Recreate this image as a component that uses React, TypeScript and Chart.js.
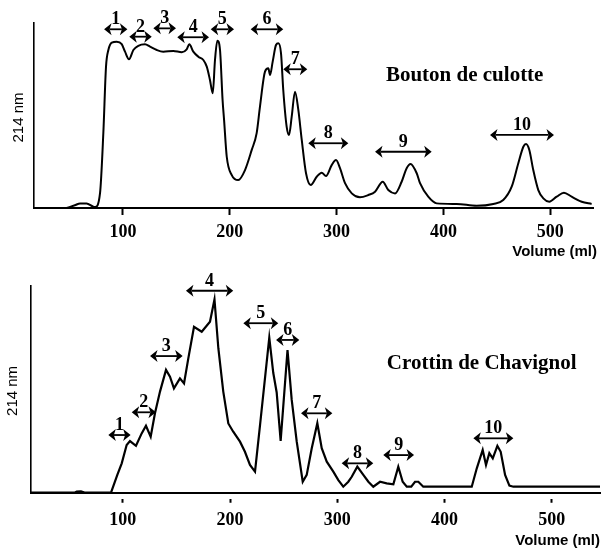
import React, { useEffect, useRef } from "react";
import { Chart, registerables } from "chart.js";

Chart.register(...registerables);

// ---------- Data: "Bouton de culotte" ----------
const boutonVolume = [
  47.4, 55, 60, 66, 72, 74, 78.6, 81.7, 84.2, 86.4, 89.6, 94.2, 98.9, 102.0, 105.7, 109.8, 114.4, 120.7,
  125.4, 131.7, 137.8, 147.2, 155.1, 159.7, 162.2, 165.9, 170.6, 175.3, 178.5, 181.5, 184.1, 186.2,
  188.4, 190.9, 193.3, 194.7, 197.2, 201.9, 208.0, 214.3, 220.6, 225.2, 228.3, 233.0, 236.1, 237.7,
  240.2, 243.3, 245.5, 248.0, 250.1, 253.3, 255.5, 258.0, 261.1, 264.2, 267.4, 271.4, 275.8, 281.4,
  286.1, 290.1, 295.4, 299.5, 303.2, 307.9, 314.2, 321.9, 329.7, 336.0, 343.2, 348.4, 354.7, 360.9,
  365.6, 369.2, 375.0, 378.1, 385.8, 393.7, 412.4, 431.1, 446.7, 456.0, 463.9, 470.1, 474.8, 477.3,
  480.4, 484.1, 488.8, 493.5, 499.1, 506.0, 512.8, 520.0, 529.4, 538.7,
];
const boutonAbsorbance = [
  0, 1.5, 2.5, 2.5, 0.8, 0.5, 8, 40.5, 76.4, 85.4, 89.4, 89.9, 88.6, 84.5, 80.4, 85.4, 87.7, 88.5,
  87.2, 85.4, 84.5, 84.9, 84.2, 85.8, 88.5, 84.5, 81.8, 80, 76.4, 69.2, 62, 80,
  90.4, 85.4, 58.4, 47.6, 27.7, 17.8, 15.1, 20.5, 31.4, 40.5, 54.8, 73.7, 75.5, 71.9,
  79.1, 88.1, 89.0, 83.6, 63.8, 43.9, 39.5, 49.4, 62.9, 53.0, 36.8, 18.8, 12.4, 16.9,
  19.1, 17.3, 23.2, 25.9, 21.5, 13.4, 7.9, 5.8, 7.0, 8.8, 14.2, 9.7, 7.9, 14.2,
  21.5, 23.8, 18.8, 13.4, 6.1, 2.5, 2.2, 1.2, 2.2, 4.3, 11.5, 24.2, 33.1, 34.6,
  31.4, 20.5, 9.7, 5.2, 3.4, 6.1, 8.3, 6.1, 3.4, 2.2,
];
const boutonPeakStart = [82.4, 106.0, 128.5, 150.9, 182.2, 219.6, 250.1, 273.5, 336.0, 443.6];
const boutonPeakEnd = [104.2, 127.0, 149.7, 180.6, 204.0, 250.1, 272.6, 311.0, 389.0, 503.5];
const boutonPeakLevel = [96.6, 92.6, 97.1, 92.3, 96.6, 96.6, 75.0, 35.0, 30.4, 39.5];

// ---------- Data: "Crottin de Chavignol" ----------
const crottinVolume = [
  14.4, 55, 57, 61, 65, 89.0, 94.9, 99.0, 103.6, 106.7, 112.3, 117.6, 121.6, 126.0, 130.0, 134.7,
  140.3, 144.0, 147.7, 153.3, 157.1, 161.1, 166.4, 173.6, 181.3, 185.5, 189.1, 193.7, 198.4, 203.0,
  209.3, 213.9, 218.6, 223.3, 228.0, 236.6, 240.3, 243.5, 247.2, 253.6, 257.5, 262.2, 267.8, 271.5,
  276.2, 281.4, 285.5, 290.2, 296.3, 301.0, 305.6, 310.3, 313.5, 318.7, 324.3, 329.0, 333.6, 339.9,
  346.1, 352.3, 356.9, 361.0, 364.8, 369.0, 372.5, 375.6, 380.2, 425.4, 430.1, 435.6, 438.7, 441.8,
  445.0, 449.3, 452.4, 456.5, 460.5, 464.2, 545,
];
const crottinAbsorbance = [
  0, 0, 0.5, 0.7, 0, 0, 8.6, 14.2, 23.1, 25.0, 22.7, 28.7, 32.4, 27.1, 38.4, 48.9,
  59.4, 56.1, 50.5, 55.3, 52.9, 65.0, 80.3, 77.9, 82.7, 93.5, 69.9, 48.9, 33.5, 29.5,
  24.7, 19.8, 13.4, 10.2, 32.8, 75.0, 58, 48.5, 25.0, 69.0, 45, 24.7, 5.3, 8.6,
  21.5, 33.6, 21.5, 15.0, 10.2, 6.1, 2.9, 5.3, 7.7, 12.6, 8.6, 5.3, 2.9, 5.3,
  4.5, 4.1, 12.6, 5.3, 2.9, 2.9, 5.3, 5.3, 2.9, 2.9, 11.8, 20.7, 13.4, 19.1,
  16.6, 22.7, 19.8, 8.6, 3.4, 2.9, 2.9,
];
const crottinPeakStart = [86.5, 108.3, 125.4, 158.9, 212.4, 242.9, 266.2, 304.1, 342.9, 426.9];
const crottinPeakEnd = [107.3, 130.9, 155.8, 203.0, 245.0, 264.6, 295.4, 333.6, 371.6, 464.2];
const crottinPeakLevel = [27.9, 38.9, 66.1, 97.7, 82.0, 73.9, 38.4, 14.2, 18.2, 26.3];

const peakNumbers = ["1", "2", "3", "4", "5", "6", "7", "8", "9", "10"];
const xTickValues = [100, 200, 300, 400, 500];
const yAxisLabel = "214 nm";
const xAxisLabel = "Volume (ml)";

type PanelCfg = {
  top: number;
  height: number;
  title: string;
  titleAt: [number, number];
  volume: number[];
  absorbance: number[];
  peakStart: number[];
  peakEnd: number[];
  peakLevel: number[];
  xMin: number;
  xMax: number;
  padding: { left: number; right: number; top: number; bottom: number };
  xAxisHeight: number;
  smooth: boolean;
  lineWidth: number;
  tickLength: number;
  tickDash: number[];
  yLabelDx: number;
  yLabelDy: number;
  xLabelDx: number;
  xLabelDy: number;
};

const panels: PanelCfg[] = [
  {
    top: 0,
    height: 265,
    title: "Bouton de culotte",
    titleAt: [419.9, 68.6],
    volume: boutonVolume,
    absorbance: boutonAbsorbance,
    peakStart: boutonPeakStart,
    peakEnd: boutonPeakEnd,
    peakLevel: boutonPeakLevel,
    xMin: 16.8,
    xMax: 540,
    padding: { left: 34, right: 8, top: 23, bottom: 0 },
    xAxisHeight: 57,
    smooth: true,
    lineWidth: 2,
    tickLength: 7,
    tickDash: [],
    yLabelDx: -15,
    yLabelDy: 2,
    xLabelDx: 4,
    xLabelDy: 47.5,
  },
  {
    top: 265,
    height: 288,
    title: "Crottin de Chavignol",
    titleAt: [434.7, 59.8],
    volume: crottinVolume,
    absorbance: crottinAbsorbance,
    peakStart: crottinPeakStart,
    peakEnd: crottinPeakEnd,
    peakLevel: crottinPeakLevel,
    xMin: 14.4,
    xMax: 545,
    padding: { left: 31, right: 1, top: 21, bottom: 0 },
    xAxisHeight: 60.3,
    smooth: false,
    lineWidth: 2.2,
    tickLength: 10,
    tickDash: [0, 5, 5, 0],
    yLabelDx: -17.7,
    yLabelDy: 1.6,
    xLabelDx: 0,
    xLabelDy: 52,
  },
];

function makeDecor(cfg: PanelCfg) {
  return {
    id: "decor",
    afterDraw(chart: any) {
      const { ctx, chartArea, scales } = chart;
      const xs = scales.x;
      const ys = scales.y;
      ctx.save();
      ctx.fillStyle = "#000";
      ctx.strokeStyle = "#000";

      // peak fraction arrows
      peakNumbers.forEach((lab, i) => {
        const x1 = xs.getPixelForValue(cfg.peakStart[i]);
        const x2 = xs.getPixelForValue(cfg.peakEnd[i]);
        const y = ys.getPixelForValue(cfg.peakLevel[i]);
        const hl = 7.5;
        const hw = 6;
        ctx.lineWidth = 1.8;
        ctx.beginPath();
        ctx.moveTo(x1 + hl - 2, y);
        ctx.lineTo(x2 - hl + 2, y);
        ctx.stroke();
        ctx.beginPath();
        ctx.moveTo(x1, y);
        ctx.lineTo(x1 + hl, y - hw);
        ctx.lineTo(x1 + hl - 2, y);
        ctx.lineTo(x1 + hl, y + hw);
        ctx.closePath();
        ctx.fill();
        ctx.beginPath();
        ctx.moveTo(x2, y);
        ctx.lineTo(x2 - hl, y - hw);
        ctx.lineTo(x2 - hl + 2, y);
        ctx.lineTo(x2 - hl, y + hw);
        ctx.closePath();
        ctx.fill();
        ctx.font = "bold 18px 'Liberation Serif', serif";
        ctx.textAlign = "center";
        ctx.textBaseline = "alphabetic";
        ctx.fillText(lab, (x1 + x2) / 2, y - 5);
      });

      // sample title
      ctx.font = "bold 21px 'Liberation Serif', serif";
      ctx.textAlign = "center";
      ctx.textBaseline = "alphabetic";
      ctx.fillText(cfg.title, xs.getPixelForValue(cfg.titleAt[0]), ys.getPixelForValue(cfg.titleAt[1]));

      // y axis label
      ctx.save();
      ctx.translate(chartArea.left + cfg.yLabelDx, (chartArea.top + chartArea.bottom) / 2 + cfg.yLabelDy);
      ctx.rotate(-Math.PI / 2);
      ctx.font = "15px 'Liberation Sans', Arial, sans-serif";
      ctx.textAlign = "center";
      ctx.textBaseline = "middle";
      ctx.fillText(yAxisLabel, 0, 0);
      ctx.restore();

      // x axis label
      ctx.font = "bold 15px 'Liberation Sans', Arial, sans-serif";
      ctx.textAlign = "right";
      ctx.textBaseline = "alphabetic";
      ctx.fillText(xAxisLabel, chartArea.right + cfg.xLabelDx, chartArea.bottom + cfg.xLabelDy);
      ctx.restore();
    },
  };
}

function Panel({ cfg }: { cfg: PanelCfg }) {
  const ref = useRef<HTMLCanvasElement>(null);
  useEffect(() => {
    const canvas = ref.current;
    if (!canvas) return;
    const points = cfg.volume.map((v, i) => ({ x: v, y: cfg.absorbance[i] }));
    const chart = new Chart(canvas, {
      type: "line",
      data: {
        datasets: [
          {
            data: points,
            borderColor: "#000",
            borderWidth: cfg.lineWidth,
            pointRadius: 0,
            fill: false,
            tension: cfg.smooth ? 0.4 : 0,
            cubicInterpolationMode: cfg.smooth ? "monotone" : "default",
          } as any,
        ],
      },
      options: {
        animation: false,
        responsive: false,
        devicePixelRatio: 1,
        parsing: false as any,
        layout: { padding: cfg.padding },
        plugins: { legend: { display: false }, tooltip: { enabled: false } },
        events: [],
        scales: {
          x: {
            type: "linear",
            min: cfg.xMin,
            max: cfg.xMax,
            afterBuildTicks: (s: any) => {
              s.ticks = xTickValues.map((v) => ({ value: v }));
            },
            afterFit: (s: any) => {
              s.height = cfg.xAxisHeight;
            },
            ticks: {
              color: "#000",
              padding: 7,
              maxRotation: 0,
              autoSkip: false,
              font: { family: "'Liberation Serif', serif", size: 18, weight: "bold" },
            },
            grid: {
              display: true,
              drawOnChartArea: false,
              drawTicks: true,
              tickLength: cfg.tickLength,
              tickWidth: 2,
              tickColor: "#000",
              tickBorderDash: cfg.tickDash,
            } as any,
            border: { display: true, color: "#000", width: 2 },
          },
          y: {
            type: "linear",
            min: 0,
            max: 100,
            afterFit: (s: any) => {
              s.width = 0;
            },
            ticks: { display: false },
            grid: { display: false },
            border: { display: true, color: "#000", width: 1.6 },
          },
        },
      },
      plugins: [makeDecor(cfg)],
    });
    return () => chart.destroy();
  }, []);
  return (
    <canvas
      ref={ref}
      width={601}
      height={cfg.height}
      style={{ position: "absolute", left: 0, top: cfg.top, width: 601, height: cfg.height, display: "block" }}
    />
  );
}

export default function App() {
  return (
    <div style={{ position: "absolute", left: 0, top: 0, width: 601, height: 553, background: "#fff" }}>
      {panels.map((p, i) => (
        <Panel key={i} cfg={p} />
      ))}
    </div>
  );
}
